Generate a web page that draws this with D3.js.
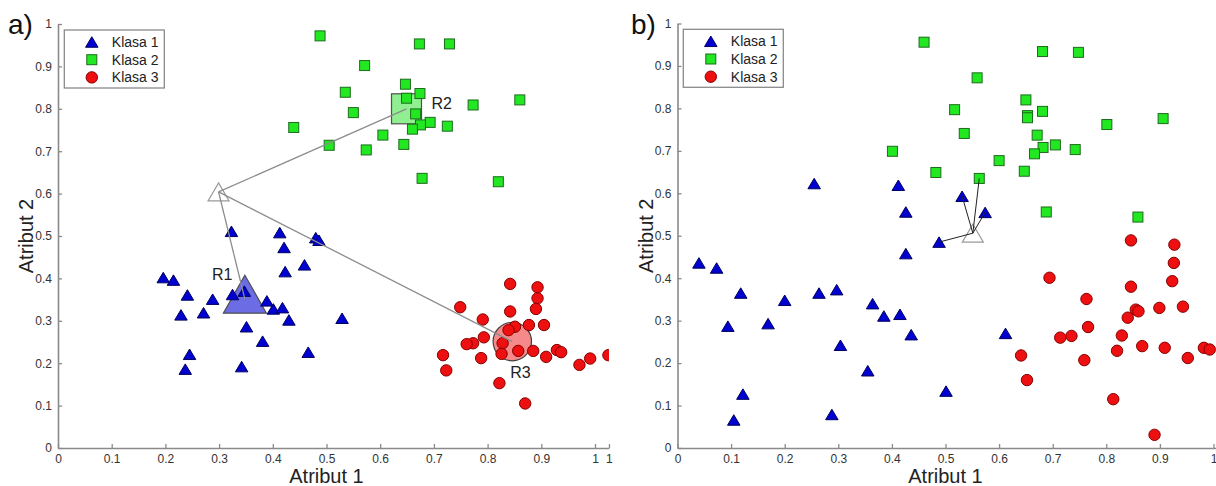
<!DOCTYPE html>
<html>
<head>
<meta charset="utf-8">
<script src="https://cdn.jsdelivr.net/npm/d3@7/dist/d3.min.js"></script>
<style>
  body { margin: 0; background: #fff; }
  svg text { font-family: "Liberation Sans", Arial, sans-serif; }
</style>
</head>
<body>
<div id="chart"></div>
<script>

// ---- data ----

// panel a) : three classes, their centroids and the query point
const klasa1A = [[0.196,0.402],[0.215,0.396],[0.241,0.361],[0.229,0.314],[0.245,0.221],[0.237,0.186],
  [0.271,0.319],[0.288,0.351],[0.323,0.511],[0.325,0.362],[0.347,0.370],[0.351,0.286],[0.342,0.192],
  [0.381,0.252],[0.389,0.347],[0.401,0.328],[0.418,0.331],[0.430,0.302],[0.413,0.508],[0.421,0.473],
  [0.423,0.416],[0.459,0.432],[0.466,0.226],[0.480,0.496],[0.486,0.490],[0.529,0.306]];
const klasa2A = [[0.488,0.972],[0.673,0.953],[0.729,0.953],[0.571,0.902],[0.647,0.858],[0.535,0.839],
  [0.674,0.836],[0.649,0.825],[0.773,0.809],[0.860,0.821],[0.550,0.791],[0.666,0.788],[0.439,0.756],
  [0.693,0.768],[0.675,0.762],[0.660,0.752],[0.725,0.759],[0.605,0.738],[0.505,0.714],[0.574,0.703],
  [0.644,0.716],[0.678,0.636],[0.820,0.628]];
const klasa3A = [[0.842,0.387],[0.893,0.379],[0.893,0.353],[0.890,0.328],[0.749,0.332],[0.842,0.322],
  [0.791,0.303],[0.877,0.290],[0.905,0.290],[0.851,0.286],[0.839,0.278],[0.793,0.261],[0.773,0.247],
  [0.761,0.245],[0.828,0.247],[0.857,0.229],[0.826,0.222],[0.885,0.229],[0.929,0.231],[0.937,0.226],
  [0.909,0.215],[0.788,0.212],[0.717,0.219],[0.723,0.183],[0.991,0.211],[0.971,0.196],[1.025,0.219],
  [0.822,0.153],[0.870,0.105]];
const centroidNames = ["R1", "R2", "R3"];
const centroidsA = [[0.348,0.351],[0.649,0.800],[0.846,0.251]];
const queryA = [0.299, 0.604];

// panel b) : same classes, query point and its nearest neighbours
const klasa1B = [[0.040,0.436],[0.073,0.424],[0.118,0.365],[0.094,0.287],[0.122,0.127],[0.105,0.066],
  [0.169,0.293],[0.200,0.348],[0.264,0.365],[0.297,0.373],[0.304,0.242],[0.288,0.079],[0.355,0.182],
  [0.364,0.340],[0.385,0.311],[0.415,0.315],[0.436,0.267],[0.426,0.458],[0.255,0.623],[0.412,0.619],
  [0.426,0.556],[0.531,0.593],[0.574,0.555],[0.488,0.485],[0.612,0.270],[0.501,0.134]];
const klasa2B = [[0.460,0.956],[0.681,0.934],[0.748,0.932],[0.559,0.872],[0.650,0.820],[0.517,0.797],
  [0.681,0.793],[0.653,0.783],[0.653,0.778],[0.801,0.762],[0.906,0.776],[0.535,0.741],[0.671,0.737],
  [0.705,0.714],[0.682,0.708],[0.666,0.693],[0.742,0.703],[0.600,0.677],[0.482,0.649],[0.647,0.652],
  [0.563,0.635],[0.688,0.556],[0.859,0.544],[0.401,0.699]];
const klasa3B = [[0.846,0.489],[0.927,0.479],[0.926,0.436],[0.923,0.393],[0.694,0.401],[0.846,0.380],
  [0.763,0.351],[0.855,0.326],[0.860,0.322],[0.899,0.330],[0.943,0.333],[0.840,0.307],[0.766,0.285],
  [0.714,0.260],[0.735,0.264],[0.829,0.265],[0.820,0.229],[0.867,0.240],[0.909,0.236],[0.982,0.236],
  [0.993,0.232],[0.952,0.212],[0.759,0.207],[0.641,0.218],[0.652,0.160],[0.813,0.115],[0.890,0.031]];
const queryB = [0.551, 0.506];
const neighboursB = [[0.563,0.635],[0.531,0.593],[0.574,0.555],[0.488,0.485]];

// axes
const xTicks = [0, 0.1, 0.2, 0.3, 0.4, 0.5, 0.6, 0.7, 0.8, 0.9, 1];
const yTicks = [0, 0.1, 0.2, 0.3, 0.4, 0.5, 0.6, 0.7, 0.8, 0.9, 1];
const xEnd = 1.026;   // axis runs a bit past 1, where a second "1" is printed (panel a)
const legendLabels = ["Klasa 1", "Klasa 2", "Klasa 3"];

// ---- layout ----
const W = 1216, H = 486;
const panels = [
  {name: "a)", left: 58, unit: 537, bottom: 448, top: 24, labelX: 8, endTick: true},
  {name: "b)", left: 677.5, unit: 536, bottom: 448, top: 23.5, labelX: 631, endTick: false}
];

const classStyle = [
  {fill: "#0000d0", stroke: "#00005e", shape: "tri"},
  {fill: "#22e822", stroke: "#1d6b1d", shape: "sq"},
  {fill: "#ee1010", stroke: "#850000", shape: "circ"}
];

function triPath(w, h) {
  return `M0,${-h/2}L${w/2},${h/2}L${-w/2},${h/2}Z`;
}

// draws one marker of a class at (cx, cy)
function marker(g, k, cx, cy) {
  const s = classStyle[k];
  let m;
  if (s.shape == "tri") {
    m = g.append("path").attr("d", triPath(12.5, 10.5))
      .attr("transform", `translate(${cx},${cy})`);
  } else if (s.shape == "sq") {
    m = g.append("rect").attr("x", cx - 5).attr("y", cy - 5)
      .attr("width", 10).attr("height", 10);
  } else {
    m = g.append("circle").attr("cx", cx).attr("cy", cy).attr("r", 5.7);
  }
  m.attr("fill", s.fill).attr("stroke", s.stroke).attr("stroke-width", 1);
}

const svg = d3.select("#chart")
  .append("svg")
  .attr("width", W)
  .attr("height", H);

function drawPanel(p, i) {
  const x = d3.scaleLinear().domain([0, xEnd]).range([p.left, p.left + p.unit * xEnd]);
  const y = d3.scaleLinear().domain([0, 1]).range([p.bottom, p.top]);
  const g = svg.append("g");

  // clip so points past the axis end are cut like in the original
  g.append("clipPath").attr("id", "clip" + i)
    .append("rect")
    .attr("x", p.left).attr("y", 0)
    .attr("width", p.unit * xEnd).attr("height", p.bottom);

  // y axis, ticks pointing inwards
  const ya = g.append("g")
    .attr("transform", `translate(${p.left},0)`)
    .call(d3.axisLeft(y).tickValues(yTicks).tickSizeInner(-4).tickSizeOuter(0)
      .tickPadding(6).tickFormat(d3.format("~g")));

  // x axis
  const xv = p.endTick ? xTicks.concat([xEnd]) : xTicks;
  const xa = g.append("g")
    .attr("transform", `translate(0,${p.bottom})`)
    .call(d3.axisBottom(x).tickValues(xv).tickSizeInner(-4).tickSizeOuter(0)
      .tickPadding(6).tickFormat(d => d >= 1 ? "1" : d3.format("~g")(d)));

  [ya, xa].forEach(a => {
    a.select(".domain").attr("stroke", "#8a8a8a").attr("stroke-width", 1.6);
    a.selectAll(".tick line").attr("stroke", "#8a8a8a").attr("stroke-width", 1.3);
    a.selectAll(".tick text").attr("fill", "#333").attr("font-size", 12)
      .attr("font-family", "Liberation Sans, Arial, sans-serif");
  });

  // axis titles
  g.append("text")
    .attr("x", x(0.5)).attr("y", 483)
    .attr("text-anchor", "middle").attr("font-size", 20).attr("fill", "#222")
    .text("Atribut 1");
  g.append("text")
    .attr("transform", `translate(${p.left - 25},${y(0.5)}) rotate(-90)`)
    .attr("text-anchor", "middle").attr("font-size", 20).attr("fill", "#222")
    .text("Atribut 2");

  // panel letter
  g.append("text")
    .attr("x", p.labelX).attr("y", 34)
    .attr("font-size", 28).attr("fill", "#111")
    .text(p.name);

  const plot = g.append("g").attr("clip-path", `url(#clip${i})`);
  return {x, y, g, plot};
}

function drawPoints(plot, x, y, classes) {
  classes.forEach((pts, k) => {
    pts.forEach(d => marker(plot, k, x(d[0]), y(d[1])));
  });
}

function queryTriangle(plot, x, y, q) {
  plot.append("path")
    .attr("d", triPath(21, 18))
    .attr("transform", `translate(${x(q[0])},${y(q[1])})`)
    .attr("fill", "#fff").attr("stroke", "#9a9a9a").attr("stroke-width", 1.2);
}

function drawLegend(g, left, top) {
  g.append("rect")
    .attr("x", left).attr("y", top)
    .attr("width", 100).attr("height", 58)
    .attr("fill", "#fff").attr("stroke", "#8a8a8a").attr("stroke-width", 1.3);
  legendLabels.forEach((lab, k) => {
    const cy = top + 12 + k * 17.7;
    marker(g, k, left + 27.5, cy);
    g.append("text")
      .attr("x", left + 47.5).attr("y", cy + 5)
      .attr("font-size", 14).attr("fill", "#222")
      .text(lab);
  });
}

// ---- panel a ----
const A = drawPanel(panels[0], 0);
const bigStyle = [
  {fill: "#6c6ce4", stroke: "#505050"},
  {fill: "#90ef90", stroke: "#505050"},
  {fill: "#f68a8a", stroke: "#404040"}
];
centroidsA.forEach((c, k) => {
  const cx = A.x(c[0]), cy = A.y(c[1]);
  let m;
  if (k == 0) {
    m = A.plot.append("path").attr("d", triPath(43, 38))
      .attr("transform", `translate(${cx},${cy - 5})`);
  } else if (k == 1) {
    m = A.plot.append("rect").attr("x", cx - 15).attr("y", cy - 15)
      .attr("width", 30).attr("height", 30);
  } else {
    m = A.plot.append("circle").attr("cx", cx).attr("cy", cy).attr("r", 19.2);
  }
  m.attr("fill", bigStyle[k].fill).attr("stroke", bigStyle[k].stroke).attr("stroke-width", 1.2);
});

drawPoints(A.plot, A.x, A.y, [klasa1A, klasa2A, klasa3A]);
queryTriangle(A.plot, A.x, A.y, queryA);

// lines from the query point to each centroid
A.plot.selectAll(".link")
  .data(centroidsA)
  .enter()
  .append("line")
    .attr("x1", A.x(queryA[0])).attr("y1", A.y(queryA[1]))
    .attr("x2", d => A.x(d[0])).attr("y2", d => A.y(d[1]))
    .attr("stroke", "#8c8c8c").attr("stroke-width", 1.3);

// centroid labels
const labelOffset = [[-33, -19], [25, 0], [-2, 36]];
centroidsA.forEach((c, k) => {
  A.g.append("text")
    .attr("x", A.x(c[0]) + labelOffset[k][0])
    .attr("y", A.y(c[1]) + labelOffset[k][1])
    .attr("font-size", 16).attr("fill", "#222")
    .text(centroidNames[k]);
});
drawLegend(A.g, 64.3, 30);

// ---- panel b ----
const B = drawPanel(panels[1], 1);
drawPoints(B.plot, B.x, B.y, [klasa1B, klasa2B, klasa3B]);
queryTriangle(B.plot, B.x, B.y, queryB);
B.plot.selectAll(".link")
  .data(neighboursB)
  .enter()
  .append("line")
    .attr("x1", B.x(queryB[0])).attr("y1", B.y(queryB[1]))
    .attr("x2", d => B.x(d[0])).attr("y2", d => B.y(d[1]))
    .attr("stroke", "#222").attr("stroke-width", 1);
drawLegend(B.g, 683.3, 29.3);

</script>
</body>
</html>
